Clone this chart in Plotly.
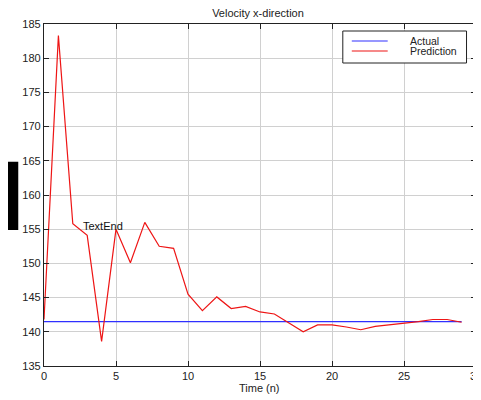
import plotly.graph_objects as go

time_n = list(range(30))
actual = [141.5] * 30
prediction = [141.8, 183.3, 155.8, 154.1, 138.6, 155.0, 150.1, 156.0, 152.5, 152.2,
              145.5, 143.1, 145.1, 143.4, 143.7, 142.9, 142.6, 141.3, 140.0, 141.0,
              141.0, 140.7, 140.3, 140.8, 141.0, 141.3, 141.5, 141.8, 141.8, 141.4]
x_ticks = [0, 5, 10, 15, 20, 25, 30]
y_ticks = [135, 140, 145, 150, 155, 160, 165, 170, 175, 180, 185]
series_names = ["Actual", "Prediction"]
series_colors = ["#3030ff", "#ee1515"]

FONT = "Liberation Sans, Arial, Helvetica, sans-serif"
# the page body has an 8px margin, so the figure is laid out 8px up/left of target
OFF = 8
W, H = 481 - OFF, 400 - OFF
ML, MR, MT, MB = 43.5 - OFF, 4.5, 24 - OFF, 34
PW, PH = W - ML - MR, H - MT - MB


def px_x(p):
    return (p - OFF - ML) / PW


def px_y(p):
    return (H - MB - (p - OFF)) / PH


fig = go.Figure()
fig.add_trace(go.Scatter(x=time_n, y=actual, mode="lines", name=series_names[0],
                         line=dict(color=series_colors[0], width=1.2), showlegend=False))
fig.add_trace(go.Scatter(x=time_n, y=prediction, mode="lines", name=series_names[1],
                         line=dict(color=series_colors[1], width=1.2), showlegend=False))

axis_common = dict(showline=True, linecolor="#222", linewidth=1.2, mirror="allticks",
                   ticks="inside", ticklen=5, tickcolor="#222", showgrid=True,
                   gridcolor="#d0d0d0", gridwidth=1.3, zeroline=False, automargin=False,
                   ticklabeloverflow="allow",
                   tickfont=dict(family=FONT, size=11, color="#222"))

fig.update_xaxes(range=[0, 30], tickvals=x_ticks, **axis_common)
fig.update_yaxes(range=[135, 185], tickvals=y_ticks, **axis_common)

fig.add_annotation(x=2.55, y=155.4, text="TextEnd", showarrow=False, xanchor="left",
                   yanchor="middle", font=dict(family=FONT, size=11, color="#111"))

# x-axis title
fig.add_annotation(xref="paper", yref="paper", x=px_x(259.5), y=px_y(388), text="Time (n)",
                   showarrow=False, xanchor="center", yanchor="middle",
                   font=dict(family=FONT, size=11, color="#222"))

# black box left of the axis
fig.add_shape(type="rect", xref="paper", yref="paper", x0=px_x(5), x1=px_x(17.7),
              y0=px_y(230), y1=px_y(161.7), fillcolor="black", line=dict(width=0))

# legend box drawn by hand (MATLAB-style compact spacing)
fig.add_shape(type="rect", xref="paper", yref="paper", x0=px_x(343), x1=px_x(467),
              y0=px_y(63), y1=px_y(31), fillcolor="white", line=dict(color="#222", width=1))
for i, (nm, col) in enumerate(zip(series_names, series_colors)):
    ly = 41 + 10 * i
    fig.add_shape(type="line", xref="paper", yref="paper", x0=px_x(352), x1=px_x(388),
                  y0=px_y(ly), y1=px_y(ly), line=dict(color=col, width=1.2))
    fig.add_annotation(xref="paper", yref="paper", x=px_x(408), y=px_y(ly), text=nm,
                       showarrow=False, xanchor="left", yanchor="middle",
                       font=dict(family=FONT, size=10.5, color="#222"))

fig.update_layout(
    width=W, height=H,
    margin=dict(l=ML, r=MR, t=MT, b=MB),
    paper_bgcolor="white", plot_bgcolor="white",
    title=dict(text="Velocity x-direction", x=(258 - OFF) / W, xanchor="center",
               y=1 - (13 - OFF) / H, yanchor="middle",
               font=dict(family=FONT, size=11, color="#222")),
    showlegend=False,
)

fig.write_html("out.html")
